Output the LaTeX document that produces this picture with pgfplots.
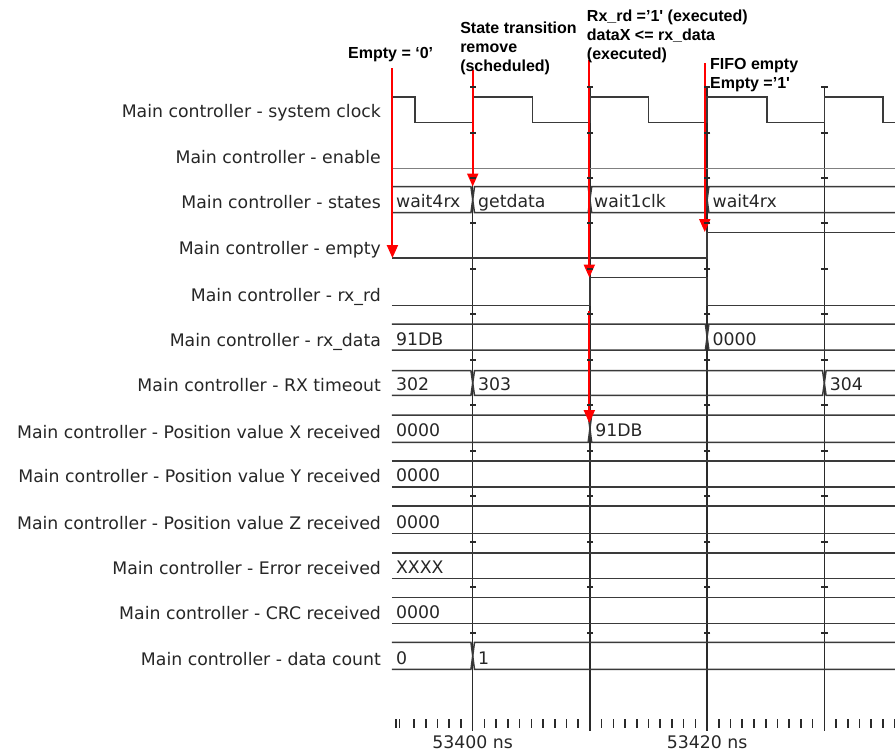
\documentclass[border=0pt]{standalone}
\usepackage{fontspec}
\setmainfont{DejaVu Sans}
\newfontfamily\annfont{Liberation Sans}
\usepackage{pgfplots}
\pgfplotsset{compat=1.18}
\usetikzlibrary{arrows.meta}

\definecolor{wave}{HTML}{3A3A3A}
\definecolor{gridc}{HTML}{2A2A2A}
\definecolor{annc}{HTML}{FF0000}

\newcommand{\lab}{\fontsize{17.3}{20}\selectfont}
\newcommand{\annf}{\annfont\bfseries\fontsize{16}{19}\selectfont}

\begin{document}
\begin{tikzpicture}
\begin{axis}[
  scale only axis, width=503.1pt, height=752pt,
  xmin=53393.1, xmax=53436.03, ymin=0, ymax=752, y dir=reverse,
  hide axis, clip=false,
]
\coordinate (BL) at (axis cs:53359.667,752);
\coordinate (TR) at (axis cs:53436.03,0);

% grid lines with row ticks
\pgfplotsinvokeforeach{53400,53410,53420,53430}{
  \addplot[gridc, line width=1.3pt] coordinates {(#1,87) (#1,731)};
  \addplot[gridc, only marks, mark=-, mark size=3.2pt, mark options={line width=1.2pt}] coordinates {(#1,87)(#1,133)(#1,178)(#1,223)(#1,269)(#1,314)(#1,360)(#1,405)(#1,451)(#1,496)(#1,542)(#1,587)(#1,633)};
}

% time ruler
\addplot[gridc, only marks, mark=|, mark size=4.2pt, mark options={line width=1.6pt}] coordinates {
(53393.45,723.3)(53393.75,723.3)(53395,723.3)(53396,723.3)(53397,723.3)(53398,723.3)(53399,723.3)
(53401,723.3)(53402,723.3)(53403,723.3)(53404,723.3)(53405,723.3)(53406,723.3)(53407,723.3)(53408,723.3)(53409,723.3)
(53411,723.3)(53412,723.3)(53413,723.3)(53414,723.3)(53415,723.3)(53416,723.3)(53417,723.3)(53418,723.3)(53419,723.3)
(53421,723.3)(53422,723.3)(53423,723.3)(53424,723.3)(53425,723.3)(53426,723.3)(53427,723.3)(53428,723.3)(53429,723.3)
(53431,723.3)(53432,723.3)(53433,723.3)(53434,723.3)(53435,723.3)(53436,723.3)};
\node[anchor=base, font=\lab, text=black!85] at (axis cs:53400,748) {53400 ns};
\node[anchor=base, font=\lab, text=black!85] at (axis cs:53420,748) {53420 ns};

% system clock
\addplot[wave, line width=1.6pt] coordinates {(53393.1,96.7)(53395.1,96.7)(53395.1,122.3)(53400,122.3)(53400,96.7)(53405.1,96.7)(53405.1,122.3)(53410,122.3)(53410,96.7)(53415,96.7)(53415,122.3)(53420,122.3)(53420,96.7)(53425.1,96.7)(53425.1,122.3)(53430,122.3)(53430,96.7)(53435,96.7)(53435,122.3)(53436.03,122.3)};
% enable
\addplot[gray, line width=0.9pt] coordinates {(53393.1,168)(53436.03,168)};
% empty
\addplot[wave, line width=1.5pt] coordinates {(53393.1,258.2)(53420,258.2)(53420,232.5)(53436.03,232.5)};
% rx_rd
\addplot[wave, line width=1.5pt] coordinates {(53393.1,305.5)(53410,305.5)(53410,277.7)(53420,277.7)(53420,305.5)(53436.03,305.5)};

% states bus
\addplot[wave, line width=1.5pt] coordinates {(53393.1,186.7)(53399.85,186.7)(53400.15,212.7)(53409.85,212.7)(53410.15,186.7)(53419.85,186.7)(53420.15,212.7)(53436.03,212.7)};
\addplot[wave, line width=1.5pt] coordinates {(53393.1,212.7)(53399.85,212.7)(53400.15,186.7)(53409.85,186.7)(53410.15,212.7)(53419.85,212.7)(53420.15,186.7)(53436.03,186.7)};
% rx_data bus
\addplot[wave, line width=1.5pt] coordinates {(53393.1,324)(53419.85,324)(53420.15,350)(53436.03,350)};
\addplot[wave, line width=1.5pt] coordinates {(53393.1,350)(53419.85,350)(53420.15,324)(53436.03,324)};
% RX timeout bus
\addplot[wave, line width=1.5pt] coordinates {(53393.1,370.7)(53399.85,370.7)(53400.15,395.3)(53429.85,395.3)(53430.15,370.7)(53436.03,370.7)};
\addplot[wave, line width=1.5pt] coordinates {(53393.1,395.3)(53399.85,395.3)(53400.15,370.7)(53429.85,370.7)(53430.15,395.3)(53436.03,395.3)};
% Position X bus
\addplot[wave, line width=1.5pt] coordinates {(53393.1,415)(53409.85,415)(53410.15,442.3)(53436.03,442.3)};
\addplot[wave, line width=1.5pt] coordinates {(53393.1,442.3)(53409.85,442.3)(53410.15,415)(53436.03,415)};
% Position Y, Z, Error, CRC buses
\addplot[wave, line width=1.5pt] coordinates {(53393.1,461)(53436.03,461)};
\addplot[wave, line width=1.5pt] coordinates {(53393.1,486.7)(53436.03,486.7)};
\addplot[wave, line width=1.5pt] coordinates {(53393.1,506)(53436.03,506)};
\addplot[wave, line width=1.5pt] coordinates {(53393.1,533.3)(53436.03,533.3)};
\addplot[wave, line width=1.5pt] coordinates {(53393.1,552.7)(53436.03,552.7)};
\addplot[wave, line width=1.5pt] coordinates {(53393.1,578.3)(53436.03,578.3)};
\addplot[wave, line width=1.5pt] coordinates {(53393.1,597.3)(53436.03,597.3)};
\addplot[wave, line width=1.5pt] coordinates {(53393.1,623.3)(53436.03,623.3)};
% data count bus
\addplot[wave, line width=1.5pt] coordinates {(53393.1,642.3)(53399.85,642.3)(53400.15,669.3)(53436.03,669.3)};
\addplot[wave, line width=1.5pt] coordinates {(53393.1,669.3)(53399.85,669.3)(53400.15,642.3)(53436.03,642.3)};

% bus values
\begin{scope}[every node/.style={anchor=base west, font=\lab, text=black!85, inner sep=0pt}]
\node at (axis cs:53393.45,207.7) {wait4rx};
\node at (axis cs:53400.45,207.7) {getdata};
\node at (axis cs:53410.35,207.7) {wait1clk};
\node at (axis cs:53420.45,207.7) {wait4rx};
\node at (axis cs:53393.45,345) {91DB};
\node at (axis cs:53420.45,345) {0000};
\node at (axis cs:53393.45,390.5) {302};
\node at (axis cs:53400.45,390.5) {303};
\node at (axis cs:53430.45,390.5) {304};
\node at (axis cs:53393.45,436.8) {0000};
\node at (axis cs:53410.45,436.8) {91DB};
\node at (axis cs:53393.45,481.7) {0000};
\node at (axis cs:53393.45,528.3) {0000};
\node at (axis cs:53393.45,573.3) {XXXX};
\node at (axis cs:53393.45,618.3) {0000};
\node at (axis cs:53393.45,664.3) {0};
\node at (axis cs:53400.45,664.3) {1};
\end{scope}

% row labels
\begin{scope}[every node/.style={anchor=base east, font=\lab, text=black!85, inner sep=0pt}]
\node at (axis cs:53392.18,117.5) {Main controller - system clock};
\node at (axis cs:53392.18,163.5) {Main controller - enable};
\node at (axis cs:53392.18,208.7) {Main controller - states};
\node at (axis cs:53392.18,254) {Main controller - empty};
\node at (axis cs:53392.18,301) {Main controller - rx\_rd};
\node at (axis cs:53392.18,346) {Main controller - rx\_data};
\node at (axis cs:53392.18,391.3) {Main controller - RX timeout};
\node at (axis cs:53392.18,438.3) {Main controller - Position value X received};
\node at (axis cs:53392.18,482.7) {Main controller - Position value Y received};
\node at (axis cs:53392.18,529.3) {Main controller - Position value Z received};
\node at (axis cs:53392.18,574.3) {Main controller - Error received};
\node at (axis cs:53392.18,619.3) {Main controller - CRC received};
\node at (axis cs:53392.18,665.3) {Main controller - data count};
\end{scope}

% red annotation arrows
\addplot[annc, line width=2pt, -{Triangle[width=11pt,length=13pt]}] coordinates {(53393.15,68) (53393.15,258)};
\addplot[annc, line width=2pt, -{Triangle[width=11pt,length=13pt]}] coordinates {(53400.0,70) (53400.0,186.5)};
\addplot[annc, line width=2pt, -{Triangle[width=11pt,length=13pt]}] coordinates {(53409.95,60) (53409.95,277.5)};
\addplot[annc, line width=2pt, -{Triangle[width=11pt,length=13pt]}] coordinates {(53409.95,311) (53409.95,423)};
\addplot[annc, line width=2pt, -{Triangle[width=11pt,length=13pt]}] coordinates {(53419.8,63) (53419.8,232)};

% annotation text
\begin{scope}[every node/.style={anchor=base west, font=\annf, text=black, inner sep=0pt}]
\node at (axis cs:53389.36,58) {Empty = ‘0’};
\node at (axis cs:53398.92,33) {State transition};
\node at (axis cs:53398.92,52) {remove};
\node at (axis cs:53398.92,71) {(scheduled)};
\node at (axis cs:53409.73,21.5) {Rx\_rd =’1\textquotesingle{} (executed)};
\node at (axis cs:53409.73,40.5) {dataX <= rx\_data};
\node at (axis cs:53409.73,59.5) {(executed)};
\node at (axis cs:53420.24,69) {FIFO empty};
\node at (axis cs:53420.24,88) {Empty =’1\textquotesingle};
\end{scope}
\end{axis}
\pgfresetboundingbox
\path (BL) rectangle (TR);
\end{tikzpicture}
\end{document}
